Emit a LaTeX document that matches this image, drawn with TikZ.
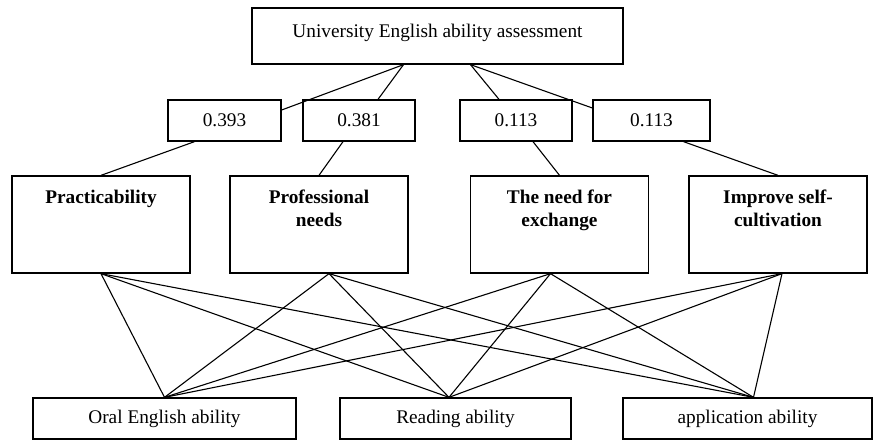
\documentclass[tikz,border=0pt]{standalone}
\usepackage{fontspec}
\setmainfont{Liberation Serif}
\usetikzlibrary{positioning}
\newcommand\diagfont{\fontsize{19.3pt}{22.7pt}\selectfont}
\begin{document}
\begin{tikzpicture}[x=1pt,y=-1pt,
  every node/.style={font=\diagfont},
  box/.style={draw,line width=1.3pt,fill=white,inner sep=0pt},
  wbox/.style={box,minimum height=41pt},
  cbox/.style={box,minimum width=178pt,minimum height=97pt},
  abox/.style={box,minimum height=41pt},
  ctext/.style={align=center,inner sep=0pt,font=\diagfont\bfseries},
  link/.style={line width=1.1pt}]
  \useasboundingbox (0,0) rectangle (873,441);
  % goal
  \node[box,minimum width=371pt,minimum height=56pt] (goal) at (437.5,36) {};
  \node[inner sep=0pt,below=16.5pt of goal.north] (goalT) {University English ability assessment};
  % weights
  \node[wbox,minimum width=113pt] (w1) at (224.5,120.5) {0.393};
  \node[wbox,minimum width=112pt] (w2) at (359,120.5) {0.381};
  \node[wbox,minimum width=112pt] (w3) at (516,120.5) {0.113};
  \node[wbox,minimum width=117pt] (w4) at (651.5,120.5) {0.113};
  % criteria
  \node[cbox] (prac) at (101,224.5) {};
  \node[cbox] (prof) at (319,224.5) {};
  \node[cbox] (exch) at (559.5,224.5) {};
  \node[cbox] (impr) at (778,224.5) {};
  \node[ctext,below=14.5pt of prac.north] (pracT) {Practicability};
  \node[ctext,below=14.5pt of prof.north] (profT) {Professional\\needs};
  \node[ctext,below=14.5pt of exch.north] (exchT) {The need for\\exchange};
  \node[ctext,below=14.5pt of impr.north] (imprT) {Improve self-\\cultivation};
  % abilities
  \node[abox,minimum width=263pt] (oral) at (164.5,418.5) {Oral English ability};
  \node[abox,minimum width=231pt] (read) at (455.5,418.5) {Reading ability};
  \node[abox,minimum width=249pt] (appl) at (747.5,418.5) {application ability};
  % links
  \draw[link] ([xshift=-34pt]goal.south) -- ([yshift=10.5pt]w1.east);
  \draw[link] ([xshift=-34pt]goal.south) -- ([xshift=19pt]w2.north);
  \draw[link] ([xshift=33pt]goal.south) -- ([xshift=-17pt]w3.north);
  \draw[link] ([xshift=33pt]goal.south) -- ([yshift=12.5pt]w4.west);
  \draw[link] ([xshift=-30pt]w1.south) -- (prac.north);
  \draw[link] ([xshift=-16pt]w2.south) -- (prof.north);
  \draw[link] ([xshift=17pt]w3.south) -- (exch.north);
  \draw[link] ([xshift=32pt]w4.south) -- (impr.north);
  \foreach \c/\cs in {prac/0,prof/10,exch/-9,impr/4}
    \foreach \a/\as in {oral/0,read/-6.5,appl/6}
      \draw[link] ([xshift=\cs pt]\c.south) -- ([xshift=\as pt]\a.north);
\end{tikzpicture}
\end{document}
